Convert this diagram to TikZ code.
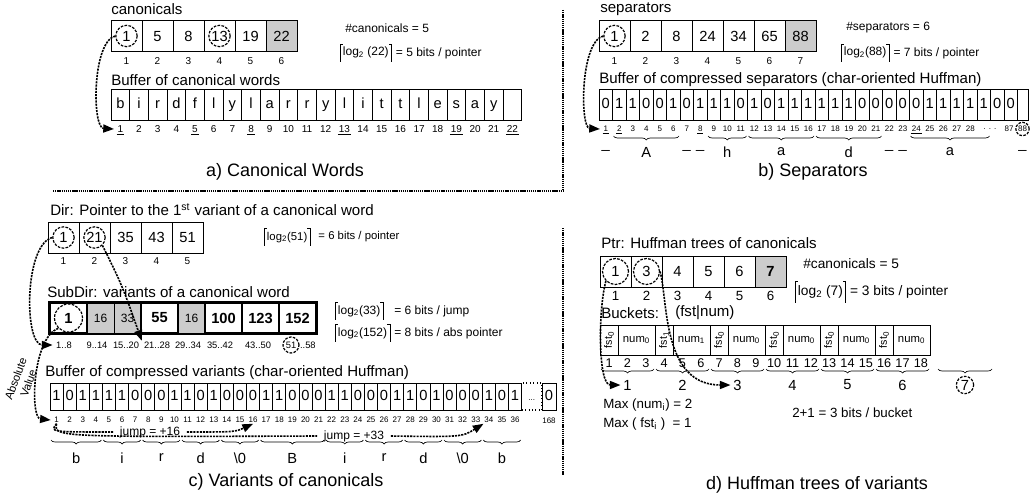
\documentclass[tikz,border=0pt]{standalone}
\usepackage{fontspec}
\setmainfont{Liberation Sans}
\usetikzlibrary{arrows.meta,decorations.pathreplacing}

% font sizes (the picture uses 0.75pt per reference pixel)
\newcommand{\fTitle}{\fontsize{13.5}{15}\selectfont}
\newcommand{\fText}{\fontsize{11.3}{13}\selectfont}
\newcommand{\fVal}{\fontsize{11}{13}\selectfont}
\newcommand{\fNote}{\fontsize{9}{11}\selectfont}
\newcommand{\fIdx}{\fontsize{7.5}{9}\selectfont}
\newcommand{\fTiny}{\fontsize{6}{7}\selectfont}

% ceiling brackets round a node
\newcommand{\ceilmarks}[1]{%
  \draw[line width=0.6pt] (#1.south west) -- (#1.north west) -- ++(3,0);
  \draw[line width=0.6pt] (#1.south east) -- (#1.north east) -- ++(-3,0);}

\tikzset{
  cell/.style={draw, line width=0.6pt, inner sep=0pt, minimum width=23.25pt,
    minimum height=23.25pt, text height=8pt, text depth=0pt, font=\fVal},
  bitcell/.style={draw, line width=0.6pt, inner sep=0pt, minimum height=23.25pt,
    text height=8pt, text depth=2pt, font=\fVal},
  idx/.style={inner sep=0.5pt, font=\fIdx},
  lbl/.style={inner sep=0pt, anchor=west, font=\fText},
  note/.style={inner sep=0pt, anchor=west, font=\fNote},
  ceil/.style={inner xsep=2pt, inner ysep=1.5pt, anchor=west, font=\fNote,
    text height=7pt, text depth=2.5pt},
  ring/.style={draw, circle, line width=0.9pt, dash pattern=on 2pt off 1pt,
    inner sep=0pt, minimum size=#1},
  ring/.default=16pt,
  ptr/.style={line width=1.2pt, dash pattern=on 1.6pt off 0.8pt,
    -{Triangle[length=8pt,width=6pt]}},
  jline/.style={line width=1.2pt, dash pattern=on 1.6pt off 0.8pt},
  divider/.style={line width=1.3pt, dash pattern=on 1pt off 0.6pt},
  ubrace/.style={decorate, decoration={brace, mirror, amplitude=3pt}, line width=0.5pt},
  title/.style={inner sep=0pt, font=\fTitle},
}

\begin{document}
\begin{tikzpicture}[x=0.75pt, y=-0.75pt]
  \useasboundingbox (0,0) rectangle (1030,499);

  % Panel dividers
  \draw[divider] (53,191) -- (563,191);
  \draw[divider] (563,10) -- (563,190);
  \draw[divider] (563,228) -- (563,475);

  %%% a) Canonical words
  \node[lbl] (acap) at (111,9) {canonicals};
  \foreach \v/\f [count=\i] in {1/white,5/white,8/white,13/white,19/white,22/black!20}{
    \node[cell, fill=\f] (ac\i) at ({111+31*\i-15.5},36) {\v};
    \node[idx] (aci\i) at ({111+31*\i-15.5},61) {\i};
  }
  \node[ring] (ar1) at (ac1) {};
  \node[ring] (ar4) at (ac4) {};
  \node[note] (acn) at (345,28) {\#canonicals = 5};
  \node[ceil] (alg) at (340,53) {log\textsubscript{2} (22)\hspace{5pt}};
  \ceilmarks{alg}
  \node[note] (aeq) at ([xshift=3pt]alg.east) {= 5 bits / pointer};

  % Buffer of words
  \node[lbl] (abuf) at (111,80) {Buffer of canonical words};
  \foreach \v [count=\i] in {b,i,r,d,f,l,y,l,a,r,r,y,l,i,t,t,l,e,s,a,y,{}}{
    \node[bitcell, minimum width=14pt] (aw\i) at ({111+18.67*\i-9.33},104.5) {\v};
    \node[idx] (awi\i) at ({111+18.67*\i-9.33},129) {\i};
  }
  \foreach \k in {1,5,8,13,19,22}
    \draw[line width=0.4pt] ([yshift=-0.4pt]awi\k.south west) -- ([yshift=-0.4pt]awi\k.south east);
  \draw[ptr] (ar1.west) .. controls (92,42) and (92,128) .. ([xshift=-2pt]awi1.west);

  \node[title] (ta) at (285,172) {a) Canonical Words};

  %%% b) Separators
  \node[lbl] (bcap) at (600,9) {separators};
  \foreach \v/\f [count=\i] in {1/white,2/white,8/white,24/white,34/white,65/white,88/black!20}{
    \node[cell, fill=\f] (bs\i) at ({599+31*\i-15.5},36) {\v};
    \node[idx] (bsi\i) at ({599+31*\i-15.5},61) {\i};
  }
  \node[ring] (br1) at (bs1) {};
  \node[note] (bsn) at (846,28) {\#separators = 6};
  \node[ceil] (blg) at (841,53) {log\textsubscript{2}(88)\hspace{3pt}};
  \ceilmarks{blg}
  \node[note] (beq) at ([xshift=3pt]blg.east) {= 7 bits / pointer};

  % Buffer of separators
  \node[lbl] (bbuf) at (599,80) {Buffer of compressed separators (char-oriented Huffman)};
  \foreach \v [count=\i] in {0,1,1,0,0,1,0,1,1,1,0,1,0,1,1,1,1,1,1,0,0,0,0,0,1,1,1,1,1,0,0}{
    \node[bitcell, minimum width=10.125pt] (bb\i) at ({599+13.5*\i-6.75},104.5) {\v};
  }
  \node[bitcell, minimum width=7.9pt] (bbend) at (1022.75,104.5) {};
  \foreach \i in {1,...,28}
    \node[idx, font=\fTiny] (bbi\i) at ({599+13.5*\i-6.75},129) {\i};
  \node[idx, font=\fTiny] (bbdots) at (990,129) {. . .};
  \node[idx, font=\fTiny] (bbi87) at (1009,129) {87};
  \node[idx, font=\fTiny] (bbi88) at (1022.5,129) {88};
  \node[ring=10pt] (br88) at (bbi88) {};
  \foreach \k in {1,2,8,24}
    \draw[line width=0.4pt] ([yshift=-0.4pt]bbi\k.south west) -- ([yshift=-0.4pt]bbi\k.south east);
  \draw[ptr] (br1.west) .. controls (580,42) and (580,128) .. ([xshift=-2pt]bbi1.west);

  % Decoded separator symbols
  \foreach \a/\b/\t in {2/6/A, 9/11/h, 12/16/a, 17/21/d, 24/29/a}{
    \draw[ubrace] ({599+13.5*(\a-1)+1},136) -- ({599+13.5*\b-1},136);
    \node[font=\fVal, inner sep=0pt] (bg\a) at ({599+13.5*(\a+\b-1)/2},152) {\t};
  }
  \foreach \c in {1,7,8,22,23}
    \node[font=\fVal, inner sep=0pt, anchor=base] (bu\c) at ({599+13.5*\c-6.75},148) {\_};
  \node[font=\fVal, inner sep=0pt, anchor=base] (bu88) at (1022.5,148) {\_};

  \node[title] (tb) at (813,172) {b) Separators};

  %%% c) Variants of canonicals
  \node[lbl] (cdir) at (50,210) {Dir: Pointer to the 1\textsuperscript{st} variant of a canonical word};
  \foreach \v [count=\i] in {1,21,35,43,51}{
    \node[cell] (cd\i) at ({48+31*\i-15.5},237.5) {\v};
    \node[idx] (cdi\i) at ({48+31*\i-15.5},261) {\i};
  }
  \node[ring] (cr1) at (cd1) {};
  \node[ring] (cr2) at (cd2) {};
  \node[ceil, font=\fontsize{8.5}{10}\selectfont] (clg1) at (264,237) {log\textsubscript{2}(51)};
  \ceilmarks{clg1}
  \node[note, font=\fontsize{8.5}{10}\selectfont] (ceq1) at ([xshift=6pt]clg1.east) {= 6 bits / pointer};

  % SubDir
  \node[lbl] (csub) at (47,292) {SubDir: variants of a canonical word};
  \foreach \n/\a/\b/\v in {cs2/87/114/16, cs3/114/141/33, cs5/178/205/16}
    \node[draw, line width=0.6pt, fill=black!20, inner sep=0pt, font=\fNote,
      minimum width={(\b-\a)*0.75pt}, minimum height=22.5pt] (\n) at ({(\a+\b)/2},318) {\v};
  \foreach \n/\a/\b/\v in {cs1/50/87/1, cs4/141/178/55, cs6/205/242/100, cs7/242/279/123, cs8/279/316/152}
    \node[draw, line width=1.5pt, inner sep=0pt, font=\fVal\bfseries,
      minimum width={(\b-\a)*0.75pt}, minimum height=22.5pt] (\n) at ({(\a+\b)/2},318) {\v};
  \draw[line width=1.5pt] (cs1.north west) rectangle (cs8.south east);
  \node[ring=21pt] (csr1) at (cs1) {};
  \foreach \x/\t [count=\i] in {64/1..8, 97/9..14, 126/15..20, 157/21..28, 188/29..34, 220/35..42, 258/43..50}
    \node[idx, font=\fontsize{7}{8}\selectfont] (csi\i) at (\x,345) {\t};
  \node[idx, font=\fontsize{7}{8}\selectfont] (csi8) at (291,345) {51};
  \node[idx, font=\fontsize{7}{8}\selectfont, anchor=west] (csi8b) at ([xshift=1.5pt]csi8.east) {..58};
  \node[ring=12pt] (csr8) at (csi8) {};

  \node[ceil] (clg2) at (335,311) {log\textsubscript{2}(33)\hspace{2pt}};
  \ceilmarks{clg2}
  \node[note] (ceq2) at (394,311) {= 6 bits / jump};
  \node[ceil] (clg3) at (335,333) {log\textsubscript{2}(152)};
  \ceilmarks{clg3}
  \node[note] (ceq3) at (394,333) {= 8 bits / abs pointer};

  % Dir pointers
  \draw[ptr] (cr1.west) .. controls (24,245) and (24,345) .. ([xshift=-2pt]csi1.west);
  \draw[ptr] (cr2.south east) .. controls (122,285) .. ([xshift=-1pt]csi4.north west);

  % Buffer of variants
  \node[lbl] (cbuf) at (45,373) {Buffer of compressed variants (char-oriented Huffman)};
  \foreach \v [count=\i] in {1,0,1,1,1,1,0,0,0,1,1,0,1,0,0,0,1,1,0,0,0,1,1,0,0,0,1,1,0,1,0,0,0,1,0,1}{
    \node[bitcell, minimum width=9.825pt, minimum height=20.25pt] (cv\i) at ({50+13.1*\i-6.55},396.5) {\v};
    \node[idx, font=\fTiny] (cvi\i) at ({50+13.1*\i-6.55},420) {\i};
  }
  \node[bitcell, dotted, line width=1pt, minimum width=15.3pt, minimum height=20.25pt,
    font=\fTiny] (cvdots) at (531.8,396.5) {...};
  \node[bitcell, minimum width=10.5pt, minimum height=20.25pt] (cv168) at (549,396.5) {0};
  \node[idx, font=\fTiny] (cvi168) at (549,421) {168};

  % Absolute value pointer
  \draw[ptr] (csr1.south west) .. controls (32,338) and (30,418) .. ([xshift=-2pt]cvi1.west);
  \node[rotate=70, inner sep=0pt, align=center, font=\fontsize{8.5}{10}\selectfont] (cabs) at (22,381) {Absolute\\Value};

  % Jumps
  \node[inner sep=1pt, font=\fNote] (cj16) at (150,432) {jump = +16};
  \node[inner sep=1pt, font=\fNote] (cj33) at (354,436) {jump = +33};
  \draw[jline] (cvi1.south) .. controls (50,432) .. ([xshift=-4pt]cj16.west);
  \draw[ptr] ([xshift=4pt]cj16.east) .. controls (235,432) .. (cvi16.south);
  \draw[jline] (cvi1.south) .. controls (54,437) .. ([xshift=-4pt]cj33.west);
  \draw[ptr] ([xshift=4pt]cj33.east) .. controls (462,437) .. (cvi34.south west);

  % Decoded characters
  \foreach \a/\b/\t in {1/4/b, 5/7/i, 8/10/r, 11/13/d, 14/16/{\textbackslash 0}, 17/21/B,
      22/24/i, 25/27/r, 28/30/d, 31/33/{\textbackslash 0}, 34/36/b}{
    \draw[ubrace] ({50+13.1*(\a-1)+1},440) -- ({50+13.1*\b-1},440);
    \node[font=\fVal, inner sep=0pt] (cg\a) at ({50+13.1*(\a+\b-1)/2},458) {\t};
  }

  \node[title] (tc) at (286,482) {c) Variants of canonicals};

  %%% d) Huffman trees of variants
  \node[lbl] (dcap) at (601,243) {Ptr: Huffman trees of canonicals};
  \foreach \v/\f [count=\i] in {1/white,3/white,4/white,5/white,6/white,{\bfseries 7}/black!20}{
    \node[cell, fill=\f] (dp\i) at ({600+31*\i-15.5},271.5) {\v};
    \node[idx, font=\fontsize{10}{12}\selectfont] (dpi\i) at ({600+31*\i-15.5},296) {\i};
  }
  \node[ring=19.5pt] (dr1) at (dp1) {};
  \node[ring=19.5pt] (dr2) at (dp2) {};
  \node[note, font=\fontsize{10.3}{12}\selectfont] (dcn) at (803,264) {\#canonicals = 5};
  \node[ceil, font=\fontsize{10.3}{12}\selectfont, inner ysep=3pt] (dlg) at (795,292) {log\textsubscript{2} (7)\hspace{4pt}};
  \ceilmarks{dlg}
  \node[note, font=\fontsize{10.3}{12}\selectfont] (deq) at ([xshift=3pt]dlg.east) {= 3 bits / pointer};

  % Buckets
  \node[lbl] (dbk) at (601,313) {Buckets:};
  \node[lbl] (dfn) at (675,313) {(fst|num)};
  \foreach \f [count=\k] in {0,1,0,0,0,0}{
    \node[draw, line width=0.6pt, inner sep=0pt, minimum width=13.5pt, minimum height=22.5pt,
      font=\fontsize{8}{9}\selectfont] (df\k) at ({600+55*(\k-1)+9},340) {\rotatebox{90}{fst\textsubscript{\f}}};
    \node[draw, line width=0.6pt, inner sep=0pt, minimum width=27.75pt, minimum height=22.5pt,
      font=\fontsize{8.5}{10}\selectfont] (dn\k) at ({600+55*(\k-1)+36.5},340) {num\textsubscript{\f}};
  }
  \foreach \i in {1,...,18}
    \node[idx, font=\fontsize{9.5}{11}\selectfont] (dbi\i) at ({600+55*(\i-1)/3+9.17},363) {\i};
  \foreach \k in {1,...,6}{
    \draw[ubrace] ({600+55*(\k-1)+1},369) -- ({600+55*\k-1},369);
    \node[font=\fVal, inner sep=0pt] (dl\k) at ({600+55*\k-27.5},385) {\k};
  }
  \draw[ubrace] (938,369) -- (992,369);
  \node[font=\fVal, inner sep=0pt] (dl7) at (965,385) {7};
  \node[ring=13pt] (dr7) at (dl7) {};

  % Tree pointers
  \draw[ptr] (dr1.south west) .. controls (598,310) and (598,385) .. ([xshift=-2pt]dl1.west);
  \draw[ptr] (dr2.east) .. controls (668,300) and (662,385) .. ([xshift=-2pt]dl3.west);

  \node[note, font=\fontsize{10}{12}\selectfont] (dmx1) at (603,405) {Max (num\textsubscript{i}) = 2};
  \node[note, font=\fontsize{10}{12}\selectfont] (dmx2) at (603,424) {Max ( fst\textsubscript{i} )\ \ = 1};
  \node[note, font=\fontsize{10}{12}\selectfont] (dbits) at (792,413) {2+1 = 3 bits / bucket};

  \node[title] (td) at (817,485) {d) Huffman trees of variants};
\end{tikzpicture}
\end{document}
